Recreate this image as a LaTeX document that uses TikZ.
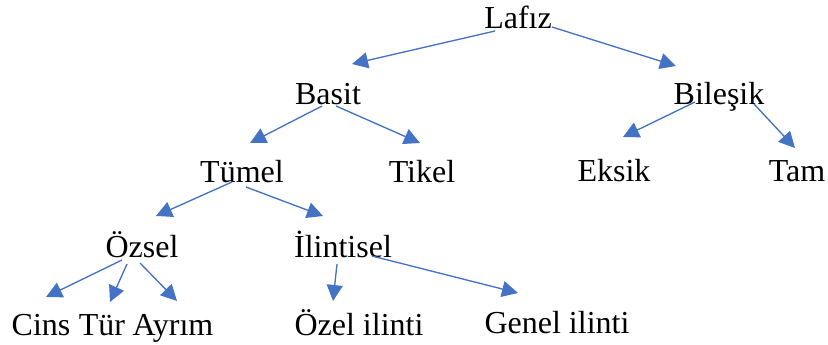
\documentclass[tikz,border=0pt]{standalone}
\usepackage{fontspec}
\setmainfont{Liberation Serif}
\usetikzlibrary{arrows.meta}
\definecolor{arrowblue}{HTML}{4472C4}
\begin{document}
\begin{tikzpicture}[x=0.75pt,y=-0.75pt,
  term/.style={anchor=base,inner sep=0pt,font=\fontsize{24}{28}\selectfont},
  arr/.style={draw=arrowblue,line width=1pt,
    -{Triangle[length=12pt,width=12pt,fill=arrowblue]}}]
\useasboundingbox (0,0) rectangle (828,345);
% level 0
\node[term] (lafiz) at (518,29) {Lafız};
% level 1
\node[term] (basit) at (328,105) {Basit};
\node[term] (bilesik) at (719,105) {Bileşik};
% level 2
\node[term] (tumel) at (242,183) {Tümel};
\node[term] (tikel) at (422,183) {Tikel};
\node[term] (eksik) at (614,182) {Eksik};
\node[term] (tam) at (797,182) {Tam};
% level 3
\node[term] (ozsel) at (142,258) {Özsel};
\node[term] (ilintisel) at (343,258) {İlintisel};
% level 4
\node[term] (cins) at (41,335) {Cins};
\node[term] (tur) at (102,335) {Tür};
\node[term] (ayrim) at (173,335) {Ayrım};
\node[term] (ozelil) at (359,335) {Özel ilinti};
\node[term] (genelil) at (557,333) {Genel ilinti};
% connectors
\draw[arr] ([shift={(-23,2)}]lafiz.base) -- ([shift={(24,-41)}]basit.base);
\draw[arr] ([shift={(34,-2)}]lafiz.base) -- ([shift={(-43,-39)}]bilesik.base);
\draw[arr] ([shift={(-6,1)}]basit.base) -- ([shift={(8,-40)}]tumel.base);
\draw[arr] ([shift={(8,1)}]basit.base) -- ([shift={(-2,-40)}]tikel.base);
\draw[arr] ([shift={(-24,-3)}]bilesik.base) -- ([shift={(9,-45)}]eksik.base);
\draw[arr] ([shift={(35,-1)}]bilesik.base) -- ([shift={(-2,-34)}]tam.base);
\draw[arr] ([shift={(-10,-1)}]tumel.base) -- ([shift={(14,-42)}]ozsel.base);
\draw[arr] ([shift={(4,4)}]tumel.base) -- ([shift={(-20,-42)}]ilintisel.base);
\draw[arr] ([shift={(-20,2)}]ozsel.base) -- ([shift={(5,-38)}]cins.base);
\draw[arr] ([shift={(-15,6)}]ozsel.base) -- ([shift={(8,-33)}]tur.base);
\draw[arr] ([shift={(-2,5)}]ozsel.base) -- ([shift={(4,-34)}]ayrim.base);
\draw[arr] ([shift={(-6,6)}]ilintisel.base) -- ([shift={(-26,-34)}]ozelil.base);
\draw[arr] ([shift={(29,-2)}]ilintisel.base) -- ([shift={(-39,-40)}]genelil.base);
\end{tikzpicture}
\end{document}
